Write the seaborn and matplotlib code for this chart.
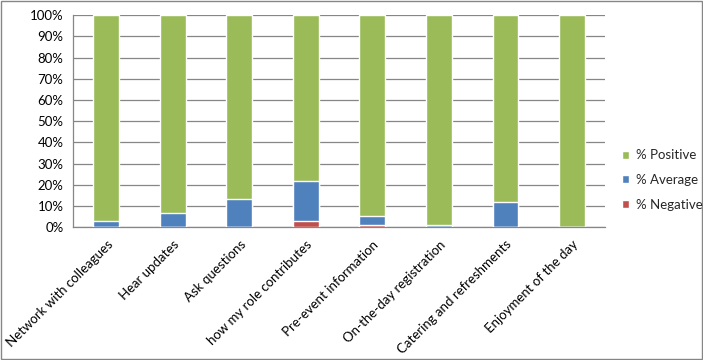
import pandas as pd
import seaborn as sns
import matplotlib.pyplot as plt
from matplotlib.patches import Patch, Rectangle

# data (percentages)
categories = ['Network with colleagues', 'Hear updates', 'Ask questions',
              'how my role contributes', 'Pre-event information',
              'On-the-day registration', 'Catering and refreshments',
              'Enjoyment of the day']
pct_negative = [0.0, 0.0, 0.0, 2.8, 0.8, 0.0, 0.0, 0.0]
pct_average = [2.8, 6.6, 13.4, 18.8, 4.4, 0.8, 11.9, 0.0]
pct_positive = [100 - n - a for n, a in zip(pct_negative, pct_average)]

df = pd.DataFrame({'category': categories, 'neg': pct_negative,
                   'avg': pct_average, 'pos': pct_positive})
df['top_avg'] = df['neg'] + df['avg']
df['top_pos'] = df['top_avg'] + df['pos']

sns.set_theme(style='white')
plt.rcParams['font.family'] = ['Lato', 'DejaVu Sans']

green, blue, red = '#9BBB59', '#4F81BD', '#C0504D'
fs = 9.5

fig = plt.figure(figsize=(7.03, 3.6), dpi=100)
ax = fig.add_axes([0.104, 0.369, 0.757, 0.589])

w = 0.39
sns.barplot(data=df, x='category', y='top_pos', color=green, width=w,
            edgecolor='white', linewidth=1, saturation=1, ax=ax, zorder=2)
sns.barplot(data=df, x='category', y='top_avg', color=blue, width=w,
            edgecolor='white', linewidth=1, saturation=1, ax=ax, zorder=3)
sns.barplot(data=df, x='category', y='neg', color=red, width=w,
            edgecolor='white', linewidth=1, saturation=1, ax=ax, zorder=4)

ax.set_xlim(-0.5, len(categories) - 0.5)
ax.set_ylim(0, 100)
ax.set_yticks(range(0, 101, 10))
ax.set_yticklabels([f'{v}%' for v in range(0, 101, 10)], fontsize=fs)
ax.yaxis.grid(True, color='#868686', linewidth=0.9, zorder=0)
ax.set_axisbelow(True)
ax.set_xlabel('')
ax.set_ylabel('')

ax.set_xticks(range(len(categories)))
ax.set_xticklabels(categories, rotation=45, ha='right', rotation_mode='anchor',
                   fontsize=fs)
ax.set_xticks([i - 0.5 for i in range(len(categories) + 1)], minor=True)
ax.tick_params(axis='x', which='major', length=0, pad=8)
ax.tick_params(axis='x', which='minor', length=5, color='#868686', direction='out')
ax.tick_params(axis='y', length=4, color='#868686', direction='out', pad=3)
ax.tick_params(axis='both', labelcolor='black')

for s in ['top', 'right']:
    ax.spines[s].set_visible(False)
for s in ['left', 'bottom']:
    ax.spines[s].set_color('#868686')
    ax.spines[s].set_linewidth(0.9)

handles = [Patch(facecolor=green, label='% Positive'),
           Patch(facecolor=blue, label='% Average'),
           Patch(facecolor=red, label='% Negative')]
fig.legend(handles=handles, loc='center left', bbox_to_anchor=(0.868, 0.5),
           frameon=False, fontsize=fs, handlelength=0.55, handleheight=0.55,
           handletextpad=0.5, labelspacing=0.95)

fig.patches.append(Rectangle((0.001, 0.002), 0.997, 0.995, transform=fig.transFigure,
                             fill=False, edgecolor='#868686', linewidth=1))

fig.savefig('out.png', dpi=100)
